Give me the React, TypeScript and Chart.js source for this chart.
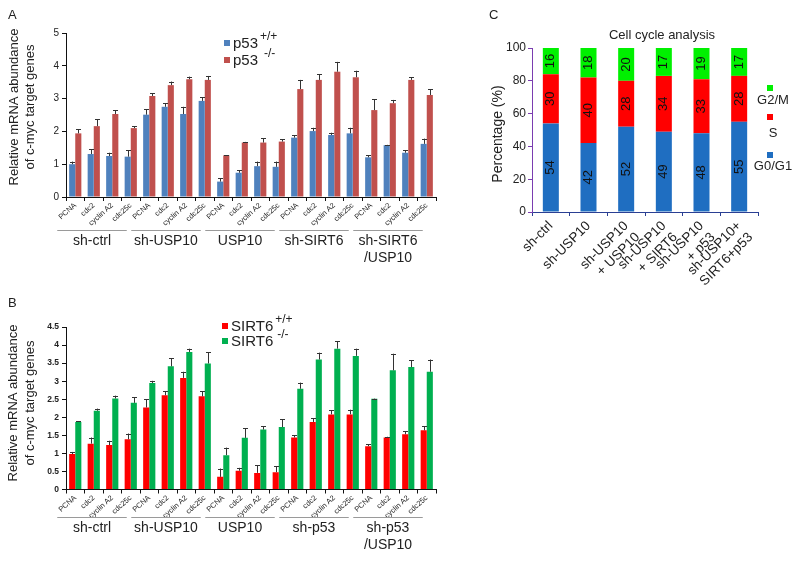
import React, { useEffect, useRef } from "react";
import { Chart, registerables } from "chart.js";
Chart.register(...registerables);

const FONT = "Arial, 'Liberation Sans', Helvetica, sans-serif";

// ---------- Data ----------
const genes = ["PCNA", "cdc2", "cyclin A2", "cdc25c"];
const groupsA = [["sh-ctrl"], ["sh-USP10"], ["USP10"], ["sh-SIRT6"], ["sh-SIRT6", "/USP10"]];
const groupsB = [["sh-ctrl"], ["sh-USP10"], ["USP10"], ["sh-p53"], ["sh-p53", "/USP10"]];

const p53Pos = [1.0, 1.31, 1.25, 1.23, 2.51, 2.75, 2.53, 2.93, 0.47, 0.74, 0.94, 0.92, 1.81, 2.01, 1.89, 1.94, 1.21, 1.58, 1.35, 1.62];
const p53PosErr = [0.08, 0.14, 0.1, 0.2, 0.16, 0.11, 0.22, 0.11, 0.1, 0.08, 0.14, 0.16, 0.08, 0.1, 0.07, 0.17, 0.07, 0.01, 0.08, 0.16];
const p53Neg = [1.94, 2.16, 2.53, 2.1, 3.08, 3.41, 3.59, 3.57, 1.27, 1.66, 1.66, 1.69, 3.29, 3.57, 3.82, 3.65, 2.65, 2.86, 3.57, 3.11];
const p53NegErr = [0.13, 0.21, 0.12, 0.06, 0.08, 0.11, 0.08, 0.12, 0.01, 0.02, 0.13, 0.07, 0.28, 0.18, 0.3, 0.2, 0.33, 0.1, 0.08, 0.18];

const sirtPos = [0.98, 1.27, 1.23, 1.39, 2.27, 2.61, 3.09, 2.58, 0.35, 0.52, 0.46, 0.48, 1.44, 1.87, 2.08, 2.08, 1.2, 1.44, 1.53, 1.64];
const sirtPosErr = [0.06, 0.17, 0.12, 0.16, 0.23, 0.11, 0.17, 0.14, 0.23, 0.08, 0.21, 0.16, 0.06, 0.11, 0.11, 0.13, 0.05, 0.02, 0.08, 0.11];
const sirtNeg = [1.87, 2.18, 2.52, 2.4, 2.95, 3.41, 3.81, 3.49, 0.95, 1.43, 1.66, 1.73, 2.79, 3.6, 3.9, 3.7, 2.51, 3.3, 3.39, 3.26];
const sirtNegErr = [0.02, 0.06, 0.08, 0.15, 0.06, 0.22, 0.09, 0.31, 0.21, 0.27, 0.09, 0.21, 0.17, 0.19, 0.21, 0.2, 0.01, 0.46, 0.19, 0.34];

const cellConditions = [
  ["sh-ctrl"],
  ["sh-USP10"],
  ["sh-USP10", "+ USP10"],
  ["sh-USP10", "+ SIRT6"],
  ["sh-USP10", "+ p53"],
  ["sh-USP10+", "SIRT6+p53"],
];
const g0g1 = [54, 42, 52, 49, 48, 55];
const sPhase = [30, 40, 28, 34, 33, 28];
const g2m = [16, 18, 20, 17, 19, 17];

// ---------- helpers ----------
function drawSupLegend(ctx: CanvasRenderingContext2D, items: any[]) {
  items.forEach((it) => {
    ctx.save();
    ctx.fillStyle = it.color;
    ctx.fillRect(it.x, it.y - 3, 6, 6);
    ctx.fillStyle = "#222";
    ctx.font = `15px ${FONT}`;
    ctx.textBaseline = "middle";
    ctx.textAlign = "left";
    ctx.fillText(it.label, it.x + 9, it.y + 1);
    const w = ctx.measureText(it.label).width;
    ctx.font = `12px ${FONT}`;
    ctx.fillText(it.sup, it.x + 9 + w + (it.gap || 2), it.y - 6);
    ctx.restore();
  });
}

function drawRotatedLines(ctx: CanvasRenderingContext2D, lines: string[], xs: number[], cy: number, font: string) {
  ctx.save();
  ctx.font = font;
  ctx.fillStyle = "#222";
  ctx.textAlign = "center";
  ctx.textBaseline = "middle";
  lines.forEach((l, i) => {
    ctx.save();
    ctx.translate(xs[i], cy);
    ctx.rotate(-Math.PI / 2);
    ctx.fillText(l, 0, 0);
    ctx.restore();
  });
  ctx.restore();
}

function groupedPlugin(cfg: any) {
  return {
    id: "grouped" + cfg.letter,
    afterDatasetsDraw(chart: any) {
      const ctx = chart.ctx;
      const ys = chart.scales.y;
      chart.data.datasets.forEach((ds: any, di: number) => {
        const meta = chart.getDatasetMeta(di);
        meta.data.forEach((bar: any, i: number) => {
          const top = ys.getPixelForValue(ds.data[i] + ds.errors[i]);
          const xc = Math.round(bar.x) + 0.5;
          ctx.save();
          ctx.strokeStyle = "#333";
          ctx.lineWidth = 1;
          ctx.beginPath();
          ctx.moveTo(xc, bar.y);
          ctx.lineTo(xc, top);
          ctx.moveTo(xc - 2.5, Math.round(top) + 0.5);
          ctx.lineTo(xc + 2.5, Math.round(top) + 0.5);
          ctx.stroke();
          ctx.restore();
        });
      });
    },
    afterDraw(chart: any) {
      const ctx = chart.ctx;
      const xs = chart.scales.x;
      const w = xs.getPixelForValue(1) - xs.getPixelForValue(0);
      cfg.groups.forEach((g: string[], gi: number) => {
        const left = xs.getPixelForValue(gi * 4) - w / 2;
        const right = xs.getPixelForValue(gi * 4 + 3) + w / 2;
        const x1 = left - w / 2 + 0.5;
        const x2 = right - w / 2 - 4;
        ctx.save();
        ctx.strokeStyle = "#9a9a9a";
        ctx.lineWidth = 1;
        ctx.beginPath();
        ctx.moveTo(x1, cfg.lineY + 0.5);
        ctx.lineTo(x2, cfg.lineY + 0.5);
        ctx.stroke();
        ctx.fillStyle = "#222";
        ctx.font = `14px ${FONT}`;
        ctx.textAlign = "center";
        ctx.textBaseline = "middle";
        g.forEach((t, k) => ctx.fillText(t, (x1 + x2) / 2, cfg.textY + k * cfg.lineGap));
        ctx.restore();
      });
      drawSupLegend(ctx, cfg.legend);
      ctx.save();
      ctx.fillStyle = "#222";
      ctx.font = `13px ${FONT}`;
      ctx.textAlign = "left";
      ctx.textBaseline = "middle";
      ctx.fillText(cfg.letter, cfg.letterX, cfg.letterY);
      ctx.restore();
      drawRotatedLines(ctx, ["Relative mRNA abundance", "of c-myc target genes"], cfg.titleXs, cfg.titleY, `13px ${FONT}`);
    },
  };
}

function groupedConfig(cfg: any): any {
  const labels = cfg.groups.flatMap(() => genes);
  return {
    type: "bar",
    data: {
      labels,
      datasets: cfg.datasets.map((d: any) => ({
        label: d.label,
        data: d.data,
        errors: d.errors,
        backgroundColor: d.color,
        borderWidth: 0,
        categoryPercentage: 0.66,
        barPercentage: 1.0,
      })),
    },
    options: {
      responsive: false,
      animation: false,
      devicePixelRatio: 1,
      layout: { padding: { left: 0, top: cfg.top, right: 800 - cfg.right, bottom: 0 } },
      plugins: { legend: { display: false }, tooltip: { enabled: false }, title: { display: false } },
      scales: {
        x: {
          type: "category",
          offset: true,
          grid: { display: true, drawOnChartArea: false, offset: true, tickLength: 4, color: "#111" },
          border: { color: "#111", width: 1 },
          ticks: { autoSkip: false, minRotation: 42, maxRotation: 42, padding: 0, color: "#222", font: { size: 7.5, family: FONT } },
          afterFit: (s: any) => { s.height = 561 - cfg.bottom; },
        },
        y: {
          min: 0,
          max: cfg.ymax,
          grid: { display: true, drawOnChartArea: false, tickLength: 4, color: "#111" },
          border: { color: "#111", width: 1 },
          ticks: {
            stepSize: cfg.step,
            padding: 3,
            color: "#222",
            font: cfg.tickFont,
            callback: (v: any) => String(v),
          },
          afterFit: (s: any) => { s.width = cfg.left; },
        },
      },
    },
    plugins: [groupedPlugin(cfg)],
  };
}

const cellPlugin = {
  id: "cellExtras",
  afterDatasetsDraw(chart: any) {
    const ctx = chart.ctx;
    chart.data.datasets.forEach((ds: any, di: number) => {
      const meta = chart.getDatasetMeta(di);
      meta.data.forEach((bar: any, i: number) => {
        ctx.save();
        ctx.translate(bar.x, (bar.y + bar.base) / 2);
        ctx.rotate(-Math.PI / 2);
        ctx.fillStyle = "#111";
        ctx.font = `13px ${FONT}`;
        ctx.textAlign = "center";
        ctx.textBaseline = "middle";
        ctx.fillText(String(ds.data[i]), 0, 0);
        ctx.restore();
      });
    });
  },
  afterDraw(chart: any) {
    const ctx = chart.ctx;
    ctx.save();
    ctx.fillStyle = "#222";
    ctx.font = `13px ${FONT}`;
    ctx.textAlign = "center";
    ctx.textBaseline = "middle";
    ctx.fillText("Cell cycle analysis", 662, 35);
    ctx.textAlign = "left";
    ctx.fillText("C", 489, 15);
    // legend
    const leg = [
      { c: "#00F000", t: "G2/M", sy: 88, ty: 100 },
      { c: "#FF0000", t: "S", sy: 117, ty: 133 },
      { c: "#1F6EC1", t: "G0/G1", sy: 155, ty: 166 },
    ];
    leg.forEach((l) => {
      ctx.fillStyle = l.c;
      ctx.fillRect(767, l.sy - 3, 6, 6);
      ctx.fillStyle = "#222";
      ctx.textAlign = "center";
      ctx.fillText(l.t, 773, l.ty);
    });
    ctx.restore();
    drawRotatedLines(ctx, ["Percentage (%)"], [498], 134, `14px ${FONT}`);
  },
};

const cellConfig: any = {
  type: "bar",
  data: {
    labels: cellConditions,
    datasets: [
      { label: "G0/G1", data: g0g1, backgroundColor: "#1F6EC1" },
      { label: "S", data: sPhase, backgroundColor: "#FF0000" },
      { label: "G2/M", data: g2m, backgroundColor: "#00F000" },
    ].map((d) => ({ ...d, borderWidth: 0, categoryPercentage: 0.5, barPercentage: 0.85 })),
  },
  options: {
    responsive: false,
    animation: false,
    devicePixelRatio: 1,
    layout: { padding: { left: 0, top: 48, right: 42, bottom: 0 } },
    plugins: { legend: { display: false }, tooltip: { enabled: false } },
    scales: {
      x: {
        stacked: true,
        offset: true,
        grid: { display: true, drawOnChartArea: false, offset: true, tickLength: 4, color: "#2A3F93" },
        border: { color: "#2A3F93", width: 1 },
        ticks: { autoSkip: false, minRotation: 45, maxRotation: 45, padding: 2, color: "#222", font: { size: 13.5, family: FONT } },
        afterFit: (s: any) => { s.height = 561 - 212; },
      },
      y: {
        stacked: true,
        min: 0,
        max: 100,
        grid: { display: true, drawOnChartArea: false, tickLength: 4, color: "#7A3DB0" },
        border: { color: "#7A3DB0", width: 1 },
        ticks: { stepSize: 20, padding: 2, color: "#222", font: { size: 12, family: FONT } },
        afterFit: (s: any) => { s.width = 532; },
      },
    },
  },
  plugins: [cellPlugin],
};

export default function App() {
  const refA = useRef<HTMLCanvasElement>(null);
  const refB = useRef<HTMLCanvasElement>(null);
  const refC = useRef<HTMLCanvasElement>(null);

  useEffect(() => {
    Chart.defaults.font.family = FONT;
    const cA = new Chart(
      refA.current as HTMLCanvasElement,
      groupedConfig({
        letter: "A", letterX: 8, letterY: 15,
        groups: groupsA,
        left: 66, right: 436, top: 33, bottom: 197,
        ymax: 5, step: 1,
        tickFont: { size: 10, family: FONT },
        lineY: 230, textY: 241, lineGap: 17,
        titleXs: [14, 30], titleY: 107,
        legend: [
          { x: 224, y: 43, color: "#4F81BD", label: "p53", sup: "+/+", gap: 2 },
          { x: 224, y: 60, color: "#C0504D", label: "p53", sup: "-/-", gap: 6 },
        ],
        datasets: [
          { label: "p53+/+", data: p53Pos, errors: p53PosErr, color: "#4F81BD" },
          { label: "p53-/-", data: p53Neg, errors: p53NegErr, color: "#C0504D" },
        ],
      })
    );
    const cB = new Chart(
      refB.current as HTMLCanvasElement,
      groupedConfig({
        letter: "B", letterX: 8, letterY: 303,
        groups: groupsB,
        left: 66, right: 436, top: 327, bottom: 489.5,
        ymax: 4.5, step: 0.5,
        tickFont: { size: 8.5, weight: "bold", family: FONT },
        lineY: 517, textY: 528, lineGap: 17,
        titleXs: [13, 30], titleY: 403,
        legend: [
          { x: 222, y: 326, color: "#FF0000", label: "SIRT6", sup: "+/+", gap: 2 },
          { x: 222, y: 341, color: "#00B050", label: "SIRT6", sup: "-/-", gap: 4 },
        ],
        datasets: [
          { label: "SIRT6+/+", data: sirtPos, errors: sirtPosErr, color: "#FF0000" },
          { label: "SIRT6-/-", data: sirtNeg, errors: sirtNegErr, color: "#00B050" },
        ],
      })
    );
    const cC = new Chart(refC.current as HTMLCanvasElement, cellConfig);
    return () => {
      cA.destroy();
      cB.destroy();
      cC.destroy();
    };
  }, []);

  const cs: React.CSSProperties = { position: "absolute", left: 0, top: 0 };
  return (
    <div style={{ position: "fixed", left: 0, top: 0, width: 800, height: 561, background: "#fff" }}>
      <canvas ref={refA} width={800} height={561} style={cs} />
      <canvas ref={refB} width={800} height={561} style={cs} />
      <canvas ref={refC} width={800} height={561} style={cs} />
    </div>
  );
}
